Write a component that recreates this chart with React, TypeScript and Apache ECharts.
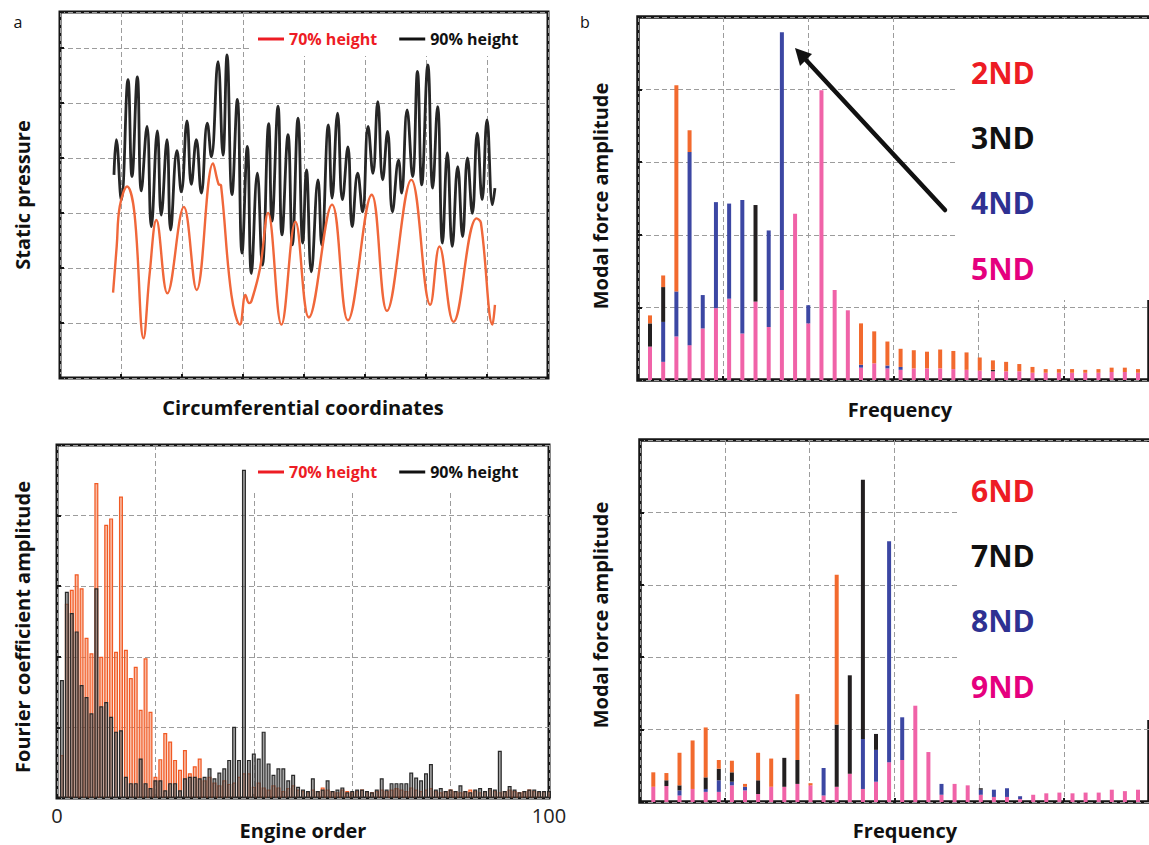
import React, { useEffect, useRef } from "react";
import * as echarts from "echarts";

// ---------- (a) upper: static pressure along the circumference ----------
const circ90 = [
  0.885, 0.923, 1.005, 1.115, 1.18, 1.268, 1.333, 1.426, 1.497, 1.596, 1.66, 1.754, 1.814, 1.918,
  1.989, 2.082, 2.153, 2.235, 2.317, 2.415, 2.481, 2.59, 2.672, 2.738, 2.82, 2.907, 2.984, 3.071,
  3.137, 3.235, 3.317, 3.421, 3.475, 3.574, 3.639, 3.738, 3.809, 3.902, 3.98, 4.04, 4.12, 4.23,
  4.29, 4.4, 4.46, 4.55, 4.63, 4.72, 4.79, 4.88, 4.96, 5.05, 5.13, 5.21, 5.29, 5.37, 5.45, 5.55,
  5.6, 5.69, 5.78, 5.86, 5.93, 6.03, 6.11, 6.19, 6.27, 6.35, 6.43, 6.52, 6.6, 6.68, 6.76, 6.84,
  6.92, 7.0, 7.09, 7.13,
];
const pressure90 = [
  3.69, 4.33, 3.23, 5.42, 3.66, 5.47, 3.4, 4.57, 2.75, 4.49, 2.96, 4.33, 2.69, 4.13,
  3.38, 4.67, 3.52, 4.33, 3.36, 4.63, 4.02, 5.75, 4.05, 5.87, 3.33, 5.06, 2.27, 4.21,
  1.9, 3.72, 2.05, 4.62, 2.85, 4.94, 2.6, 4.42, 2.42, 4.72, 2.45, 3.78, 1.93, 3.6,
  2.42, 4.6, 3.27, 4.81, 3.24, 4.2, 2.75, 3.72, 3.02, 4.57, 3.72, 5.02, 3.6, 4.48, 3.02, 3.96,
  3.36, 4.87, 3.66, 5.57, 3.51, 5.69, 3.45, 4.93, 2.45, 4.09, 2.39, 3.84, 2.57, 4.0, 2.99, 4.45,
  3.24, 4.69, 3.15, 3.45,
];
const circ70 = [
  0.87, 0.93, 0.98, 1.1, 1.22, 1.37, 1.47, 1.58, 1.76, 2.03, 2.24, 2.51, 2.6, 2.64, 2.81, 2.95,
  3.04, 3.1, 3.14, 3.28, 3.41, 3.63, 3.86, 4.08, 4.46, 4.72, 5.11, 5.36, 5.76, 6.07, 6.22, 6.45,
  6.83, 6.9, 7.09, 7.13,
];
const pressure70 = [
  1.55, 2.4, 3.12, 3.48, 3.0, 0.72, 1.9, 2.87, 1.54, 3.11, 1.6, 3.9, 3.52, 3.5, 1.51, 0.97,
  1.51, 1.36, 1.4, 2.0, 3.0, 0.97, 2.84, 1.1, 3.15, 1.05, 3.33, 1.22, 3.6, 1.33, 2.39, 1.02,
  2.9, 2.82, 0.97, 1.33,
];

// ---------- (a) lower: Fourier coefficient amplitude, engine orders 1..100 ----------
const engineOrders = Array.from({ length: 100 }, (_, i) => String(i + 1));
const fourier70 = [
  0.61, 2.75, 2.95, 3.17, 2.97, 2.27, 2.05, 4.46, 2.0, 3.87,
  3.96, 2.07, 4.27, 2.1, 1.7, 1.86, 1.25, 1.98, 1.22, 0.3,
  0.55, 0.92, 0.8, 0.54, 0.4, 0.68, 0.35, 0.45, 0.56, 0.25,
  0.3, 0.22, 0.18, 0.25, 0.2, 0.22, 0.3, 0.35, 0.35, 0.16,
  0.22, 0.15, 0.12, 0.18, 0.15, 0.1, 0.14, 0.18, 0.12, 0.1,
  0.08, 0.12, 0.1, 0.15, 0.12, 0.1, 0.08, 0.12, 0.1, 0.08,
  0.1, 0.12, 0.1, 0.08, 0.1, 0.12, 0.1, 0.12, 0.14, 0.12,
  0.1, 0.15, 0.12, 0.1, 0.12, 0.14, 0.1, 0.08, 0.1, 0.12,
  0.1, 0.08, 0.1, 0.12, 0.1, 0.08, 0.1, 0.12, 0.1, 0.08,
  0.1, 0.12, 0.1, 0.08, 0.1, 0.12, 0.1, 0.08, 0.1, 0.1,
];
const fourier90 = [
  1.67, 2.92, 2.62, 2.36, 1.6, 1.43, 1.2, 2.97, 1.3, 1.36,
  1.15, 0.94, 0.96, 0.3, 0.21, 0.21, 0.56, 0.21, 0.14, 0.25,
  0.25, 0.11, 0.21, 0.21, 0.11, 0.28, 0.3, 0.3, 0.28, 0.3,
  0.42, 0.28, 0.36, 0.42, 0.54, 1.01, 0.54, 4.65, 0.54, 0.63,
  0.56, 0.94, 0.49, 0.33, 0.42, 0.42, 0.25, 0.33, 0.16, 0.12,
  0.1, 0.28, 0.1, 0.12, 0.25, 0.1, 0.12, 0.15, 0.08, 0.1,
  0.12, 0.12, 0.1, 0.08, 0.12, 0.28, 0.12, 0.21, 0.21, 0.21,
  0.21, 0.36, 0.29, 0.25, 0.35, 0.48, 0.12, 0.14, 0.1, 0.12,
  0.1, 0.18, 0.1, 0.08, 0.12, 0.14, 0.1, 0.14, 0.12, 0.67,
  0.1, 0.17, 0.12, 0.08, 0.1, 0.12, 0.12, 0.1, 0.1, 0.1,
];

// ---------- (b): modal force amplitude per frequency line, by nodal diameter ----------
const freqLines = Array.from({ length: 38 }, (_, i) => String(i + 1));
const nd5 = [
  0.46, 0.25, 0.6, 0.48, 0.71, 0.99, 1.12, 0.64, 1.08, 0.73, 1.24, 2.29, 0.78, 3.99, 1.24, 0.96,
  0.17, 0.23, 0.16, 0.14, 0.16, 0.16, 0.16, 0.15, 0.14, 0.13, 0.12, 0.12, 0.12, 0.1, 0.1, 0.1,
  0.1, 0.1, 0.1, 0.11, 0.11, 0.1,
];
const nd4 = [
  0, 0.55, 0.62, 2.66, 0.46, 1.46, 1.31, 1.84, 0, 1.33, 3.55, 0, 0.25, 0, 0, 0,
  0.04, 0, 0.04, 0.04, 0, 0, 0, 0, 0, 0, 0, 0, 0, 0, 0, 0, 0, 0, 0, 0, 0, 0,
];
const nd3 = [
  0.32, 0.48, 0, 0, 0, 0, 0, 0, 1.33, 0, 0, 0, 0, 0, 0, 0,
  0, 0, 0, 0, 0, 0, 0, 0, 0, 0, 0.02, 0, 0, 0, 0, 0, 0, 0, 0, 0, 0, 0,
];
const nd2 = [
  0.11, 0.16, 2.84, 0.3, 0, 0, 0, 0, 0, 0, 0, 0, 0, 0, 0, 0,
  0.57, 0.44, 0.33, 0.25, 0.25, 0.23, 0.26, 0.25, 0.24, 0.18, 0.13, 0.13, 0.1, 0.08, 0.05, 0.05,
  0.05, 0.04, 0.05, 0.06, 0.06, 0.05,
];
const nd9 = [
  0.21, 0.22, 0.09, 0.18, 0.14, 0.14, 0.23, 0.16, 0.11, 0.21, 0.21, 0.25, 0.23, 0.09, 0.21, 0.39,
  0.18, 0.28, 0.55, 0.58, 1.33, 0.69, 0.1, 0.25, 0.23, 0.1, 0.07, 0.07, 0.04, 0.1, 0.12, 0.13,
  0.12, 0.13, 0.13, 0.17, 0.15, 0.17,
];
const nd8 = [
  0, 0, 0.07, 0, 0.04, 0.16, 0.05, 0.05, 0, 0, 0, 0, 0, 0.38, 0, 0,
  0.69, 0.44, 3.05, 0.59, 0, 0, 0.15, 0, 0, 0.07, 0.1, 0.12, 0.04, 0, 0, 0, 0, 0, 0, 0, 0, 0,
];
const nd7 = [
  0, 0.08, 0.07, 0, 0.16, 0.16, 0.13, 0, 0.19, 0, 0.4, 0.33, 0, 0, 0.86, 1.36,
  3.58, 0.22, 0, 0, 0, 0, 0, 0, 0, 0.02, 0, 0, 0, 0, 0, 0, 0, 0, 0, 0, 0, 0,
];
const nd6 = [
  0.2, 0.1, 0.45, 0.67, 0.69, 0.12, 0.16, 0.04, 0.38, 0.39, 0, 0.91, 0.03, 0, 2.07, 0,
  0, 0, 0, 0, 0, 0, 0, 0, 0, 0, 0, 0, 0, 0, 0, 0, 0, 0, 0, 0, 0, 0,
];

const FONT = '"Open Sans", "Noto Sans", "DejaVu Sans", sans-serif';
const INK = "#151515";
const RED = "#ed1c24";
const C_ORANGE = "#f26a2e";
const C_BLUE = "#3c47a3";
const C_BLACK = "#231f20";
const C_PINK = "#f063a8";
const T_BLUE = "#2e3192";
const T_PINK = "#e5007e";

const zip = (xs: number[], ys: number[]) => xs.map((x, i) => [x, ys[i]]);

const split = { show: true, lineStyle: { color: "#9c9c9c", width: 1, type: [5, 3] } };
const tickIn = { show: true, inside: true, length: 4, lineStyle: { color: INK, width: 2 } };

const box = (left: number, top: number, width: number, height: number, bw: number) => ({
  left, top, width, height, show: true, borderColor: INK, borderWidth: bw,
  backgroundColor: "rgba(0,0,0,0)",
});
const plain = (left: number, top: number, width: number, height: number) => ({ left, top, width, height });

const frameAxis = (gridIndex: number, min: number, max: number, interval: number, extra: any = {}) => ({
  gridIndex, type: "value", min, max, interval,
  axisLine: { show: false }, axisTick: tickIn, axisLabel: { show: false }, splitLine: split,
  ...extra,
});
const bandAxis = (gridIndex: number, data: string[]) => ({
  gridIndex, type: "category", data, show: false, boundaryGap: true,
});
const hiddenValue = (gridIndex: number, max: number) => ({
  gridIndex, type: "value", min: 0, max, show: false, splitLine: { show: false },
});

const stackBar = (name: string, data: number[], color: string, stack: string, axis: number) => ({
  name, type: "bar", stack, data, xAxisIndex: axis, yAxisIndex: axis, barWidth: 4,
  itemStyle: { color }, z: 3,
});

const text = (t: string, x: number, y: number, size: number, color: string, o: any = {}) => ({
  type: "text", x, y, rotation: o.rotate ? Math.PI / 2 : 0, z: 10, silent: true,
  style: {
    text: t, fill: color, fontSize: size, fontWeight: o.weight || "bold", fontFamily: FONT,
    align: o.align || "center", textAlign: o.align || "center",
    verticalAlign: "middle", textVerticalAlign: "middle",
  },
});
const whiteout = (x: number, y: number, width: number, height: number) => ({
  type: "rect", z: 1, silent: true, shape: { x, y, width, height }, style: { fill: "#ffffff" },
});

const legendFor = (top: number) => ({
  left: 258, top, orient: "horizontal", icon: "rect", itemWidth: 26, itemHeight: 3, itemGap: 22,
  padding: 0, selectedMode: false,
  textStyle: { fontSize: 16, fontWeight: "bold", fontFamily: FONT },
  data: [
    { name: "70% height", textStyle: { color: RED }, itemStyle: { color: RED, borderWidth: 0 } },
    { name: "90% height", textStyle: { color: "#111" }, itemStyle: { color: "#111", borderWidth: 0 } },
  ],
});

const option: any = {
  animation: false,
  backgroundColor: "#ffffff",
  textStyle: { fontFamily: FONT },
  grid: [
    box(60, 12, 488, 366, 3),
    box(57, 445, 492, 353, 3),
    box(638, 17, 520, 363, 3.5),
    box(640, 440, 520, 362, 3.5),
    plain(59.46, 445, 492, 353),
    plain(643.4, 17, 501.2, 363),
    plain(646.75, 440, 497.8, 362),
  ],
  xAxis: [
    frameAxis(0, 0, 8, 1),
    frameAxis(1, 0, 100, 20, {
      axisLabel: {
        show: true, fontSize: 20, color: "#222", margin: 7, fontFamily: FONT,
        formatter: (v: number) => (v === 0 || v === 100 ? String(v) : ""),
      },
    }),
    frameAxis(2, 0, 6, 1),
    frameAxis(3, 0, 6, 1),
    bandAxis(4, engineOrders),
    bandAxis(5, freqLines),
    bandAxis(6, freqLines),
  ],
  yAxis: [
    frameAxis(0, 0, 6.65, 1),
    frameAxis(1, 0, 5, 1),
    frameAxis(2, 0, 5, 1),
    frameAxis(3, 0, 5, 1),
    hiddenValue(4, 5),
    hiddenValue(5, 5),
    hiddenValue(6, 5),
  ],
  legend: [legendFor(31), legendFor(464)],
  series: [
    {
      name: "70% height", type: "line", xAxisIndex: 0, yAxisIndex: 0, data: zip(circ70, pressure70),
      smooth: 0.4, showSymbol: false, symbol: "none", z: 3,
      lineStyle: { color: "#f0673a", width: 2.4 }, itemStyle: { color: "#f0673a" },
    },
    {
      name: "90% height", type: "line", xAxisIndex: 0, yAxisIndex: 0, data: zip(circ90, pressure90),
      smooth: 0.45, showSymbol: false, symbol: "none", z: 2,
      lineStyle: { color: "#262626", width: 2.8 }, itemStyle: { color: "#262626" },
    },
    {
      name: "70% height", type: "bar", xAxisIndex: 4, yAxisIndex: 4, data: fourier70,
      barWidth: 4, barGap: "-100%", z: 2,
      itemStyle: { color: "rgba(245,140,100,0.6)", borderColor: "#f15a24", borderWidth: 1.2 },
    },
    {
      name: "90% height", type: "bar", xAxisIndex: 4, yAxisIndex: 4, data: fourier90,
      barWidth: 4, barGap: "-100%", z: 3,
      itemStyle: { color: "rgba(100,100,100,0.6)", borderColor: "#2a2a2a", borderWidth: 1.2 },
    },
    stackBar("5ND", nd5, C_PINK, "tr", 5),
    stackBar("4ND", nd4, C_BLUE, "tr", 5),
    stackBar("3ND", nd3, C_BLACK, "tr", 5),
    stackBar("2ND", nd2, C_ORANGE, "tr", 5),
    stackBar("9ND", nd9, C_PINK, "br", 6),
    stackBar("8ND", nd8, C_BLUE, "br", 6),
    stackBar("7ND", nd7, C_BLACK, "br", 6),
    stackBar("6ND", nd6, C_ORANGE, "br", 6),
  ],
  graphic: [
    whiteout(250, 14, 296, 42),
    whiteout(250, 447, 297, 43),
    whiteout(957, 19, 200, 281),
    whiteout(957, 442, 200, 278),
    text("a", 18, 22, 16, "#111", { weight: "normal" }),
    text("b", 585, 22, 16, "#111", { weight: "normal" }),
    text("Static pressure", 22, 195, 20, "#111", { rotate: true }),
    text("Circumferential coordinates", 303, 407, 20, "#111"),
    text("Fourier coefficient amplitude", 22, 627, 20, "#111", { rotate: true }),
    text("Engine order", 303, 830, 20, "#111"),
    text("Modal force amplitude", 600, 196, 20, "#111", { rotate: true }),
    text("Modal force amplitude", 600, 615, 20, "#111", { rotate: true }),
    text("Frequency", 900, 409, 20, "#111"),
    text("Frequency", 905, 830, 20, "#111"),
    text("2ND", 971, 72, 30, RED, { align: "left" }),
    text("3ND", 971, 137, 30, "#111", { align: "left" }),
    text("4ND", 971, 202, 30, T_BLUE, { align: "left" }),
    text("5ND", 971, 268, 30, T_PINK, { align: "left" }),
    text("6ND", 971, 490, 30, RED, { align: "left" }),
    text("7ND", 971, 555, 30, "#111", { align: "left" }),
    text("8ND", 971, 620, 30, T_BLUE, { align: "left" }),
    text("9ND", 971, 686, 30, T_PINK, { align: "left" }),
    {
      type: "line", z: 10, silent: true,
      shape: { x1: 945, y1: 210, x2: 806, y2: 60 },
      style: { stroke: "#111", lineWidth: 4.5, lineCap: "round" },
    },
    {
      type: "polygon", z: 10, silent: true,
      shape: { points: [[795, 48], [812, 54], [800, 66]] },
      style: { fill: "#111" },
    },
  ],
};

export default function App() {
  const ref = useRef<HTMLDivElement>(null);
  useEffect(() => {
    if (!ref.current) return;
    const chart = echarts.init(ref.current, null, { renderer: "svg" });
    chart.setOption(option);
    return () => chart.dispose();
  }, []);
  return (
    <div
      ref={ref}
      style={{ position: "fixed", left: 0, top: 0, width: 1149, height: 845, background: "#fff" }}
    />
  );
}
